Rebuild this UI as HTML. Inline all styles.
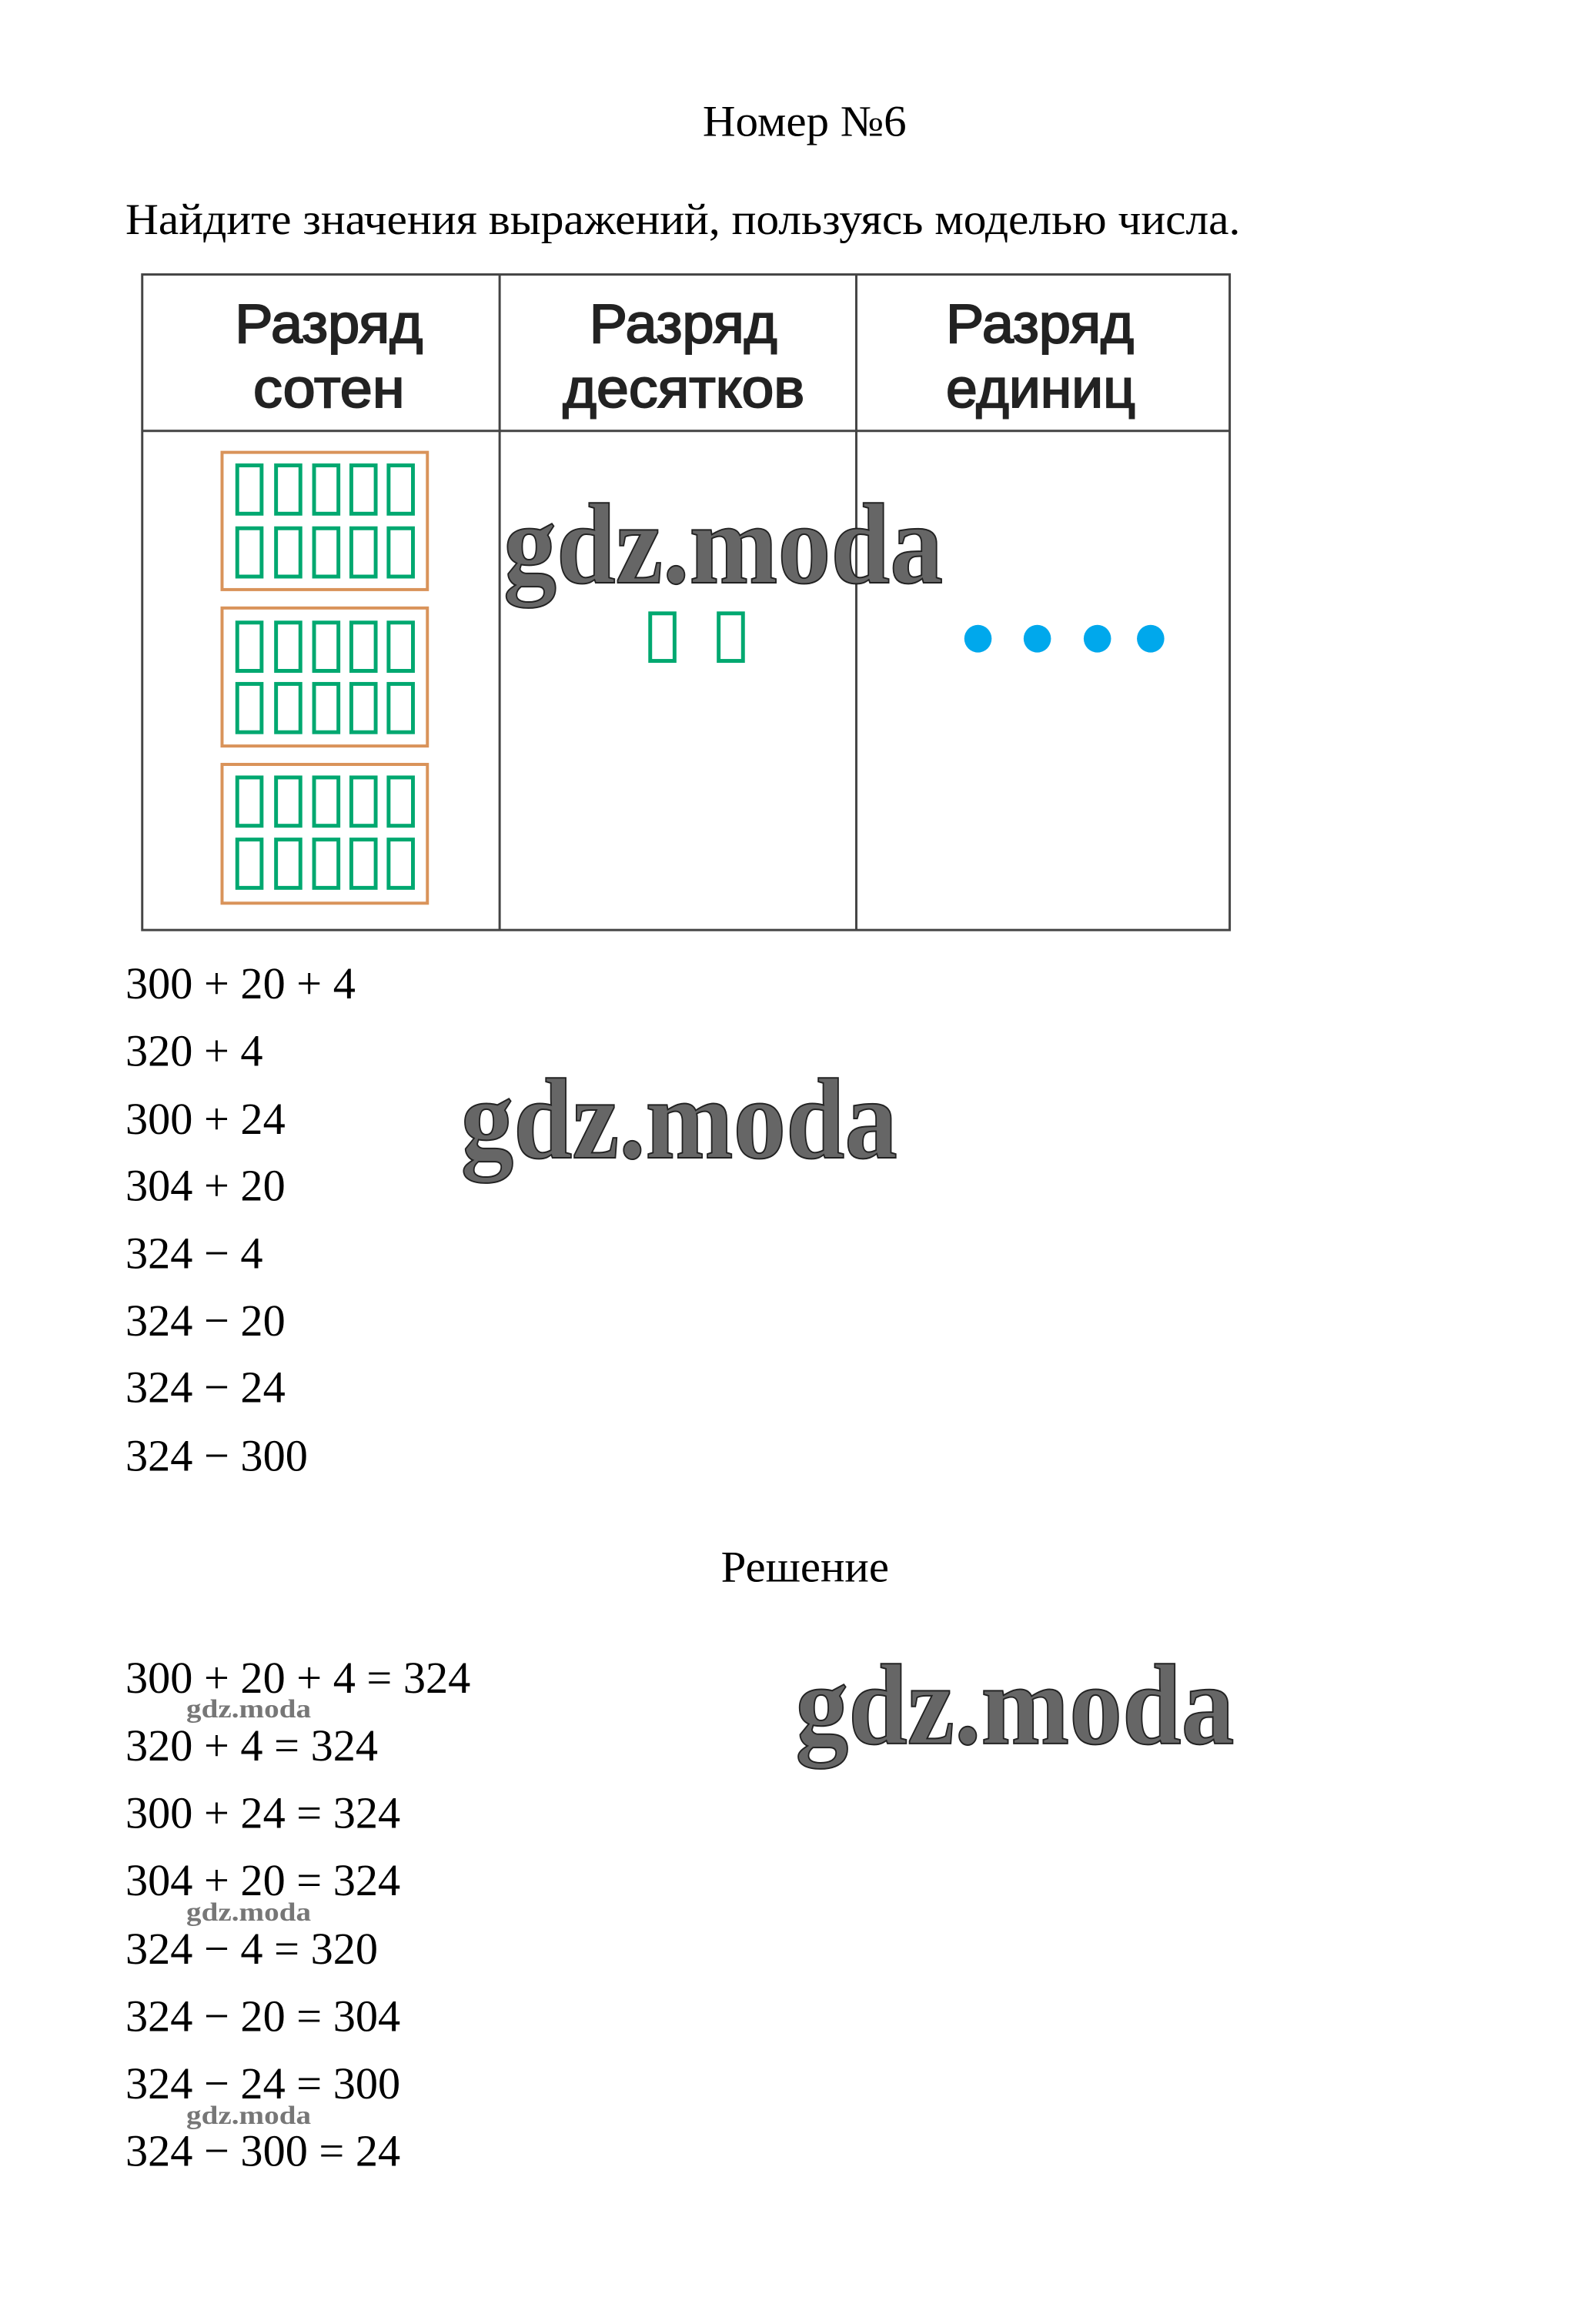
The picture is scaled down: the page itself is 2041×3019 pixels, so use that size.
<!DOCTYPE html>
<html><head><meta charset="utf-8"><style>
html,body{margin:0;padding:0;background:#fff;}
svg{display:block;}
.t{font-family:"Liberation Serif",serif;font-size:57px;fill:#000;}
.l{font-family:"Liberation Serif",serif;font-size:59px;fill:#000;}
.h{font-family:"Liberation Sans","DejaVu Sans",sans-serif;font-size:72px;fill:#222;stroke:#222;stroke-width:2px;}
.w{font-family:"Liberation Serif",serif;font-weight:bold;fill:#666;stroke:#222;stroke-width:2px;}
.ws{font-family:"Liberation Serif",serif;font-weight:bold;fill:#777;}
</style></head><body>
<svg width="2041" height="3019" viewBox="0 0 2041 3019" xmlns="http://www.w3.org/2000/svg">
<defs>
<g id="row"><rect x="312" y="0" width="32" height="63"/><rect x="363" y="0" width="32" height="63"/><rect x="413" y="0" width="32" height="63"/><rect x="462" y="0" width="32" height="63"/><rect x="511" y="0" width="32" height="63"/></g>
</defs>
<g transform="scale(0.988,0.996)">
<text class="t" x="924" y="177" textLength="268" lengthAdjust="spacingAndGlyphs">Номер №6</text>
<text class="t" x="165" y="305" textLength="1466" lengthAdjust="spacingAndGlyphs">Найдите значения выражений, пользуясь моделью числа.</text>

<g stroke="#444" stroke-width="3" fill="none">
<rect x="187" y="358" width="1430" height="855"/>
<line x1="187" y1="562" x2="1617" y2="562"/>
<line x1="657" y1="358" x2="657" y2="1213"/>
<line x1="1126" y1="358" x2="1126" y2="1213"/>
</g>
<text class="h" x="309" y="447" textLength="247" lengthAdjust="spacingAndGlyphs">Разряд</text>
<text class="h" x="333" y="531" textLength="199" lengthAdjust="spacingAndGlyphs">сотен</text>
<text class="h" x="775" y="447" textLength="247" lengthAdjust="spacingAndGlyphs">Разряд</text>
<text class="h" x="740" y="531" textLength="318" lengthAdjust="spacingAndGlyphs">десятков</text>
<text class="h" x="1244" y="447" textLength="247" lengthAdjust="spacingAndGlyphs">Разряд</text>
<text class="h" x="1244" y="531" textLength="249" lengthAdjust="spacingAndGlyphs">единиц</text>

<g fill="none" stroke="#d9935a" stroke-width="4">
<rect x="292" y="590" width="270" height="179"/>
<rect x="292" y="793" width="270" height="180"/>
<rect x="292" y="997" width="270" height="181"/>
</g>
<g fill="none" stroke="#00a870" stroke-width="5">
<use href="#row" y="607"/><use href="#row" y="689"/>
<use href="#row" y="812"/><use href="#row" y="892"/>
<use href="#row" y="1014"/><use href="#row" y="1095"/>
<rect x="855" y="800" width="32" height="62"/>
<rect x="945" y="800" width="32" height="62"/>
</g>
<g fill="#00a8ec">
<circle cx="1286" cy="833" r="18"/><circle cx="1364" cy="833" r="18"/><circle cx="1443" cy="833" r="18"/><circle cx="1513" cy="833" r="18"/>
</g>

<text class="w" x="662" y="760" font-size="150" textLength="578" lengthAdjust="spacingAndGlyphs">gdz.moda</text>

<g class="l">
<text x="165" y="1302">300 + 20 + 4</text>
<text x="165" y="1390">320 + 4</text>
<text x="165" y="1479">300 + 24</text>
<text x="165" y="1566">304 + 20</text>
<text x="165" y="1654">324 − 4</text>
<text x="165" y="1742">324 − 20</text>
<text x="165" y="1829">324 − 24</text>
<text x="165" y="1918">324 − 300</text>
<text x="165" y="2208">300 + 20 + 4 = 324</text>
<text x="165" y="2296">320 + 4 = 324</text>
<text x="165" y="2384">300 + 24 = 324</text>
<text x="165" y="2472">304 + 20 = 324</text>
<text x="165" y="2561">324 − 4 = 320</text>
<text x="165" y="2649">324 − 20 = 304</text>
<text x="165" y="2737">324 − 24 = 300</text>
<text x="165" y="2825">324 − 300 = 24</text>
</g>
<text class="t" x="948" y="2063" textLength="221" lengthAdjust="spacingAndGlyphs">Решение</text>

<text class="w" x="606" y="1510" font-size="150" textLength="574" lengthAdjust="spacingAndGlyphs">gdz.moda</text>
<text class="w" x="1046" y="2274" font-size="150" textLength="577" lengthAdjust="spacingAndGlyphs">gdz.moda</text>

<text class="ws" x="245" y="2240" font-size="34" textLength="164" lengthAdjust="spacingAndGlyphs">gdz.moda</text>
<text class="ws" x="245" y="2505" font-size="34" textLength="164" lengthAdjust="spacingAndGlyphs">gdz.moda</text>
<text class="ws" x="245" y="2770" font-size="34" textLength="164" lengthAdjust="spacingAndGlyphs">gdz.moda</text>
</g>
</svg>
</body></html>
